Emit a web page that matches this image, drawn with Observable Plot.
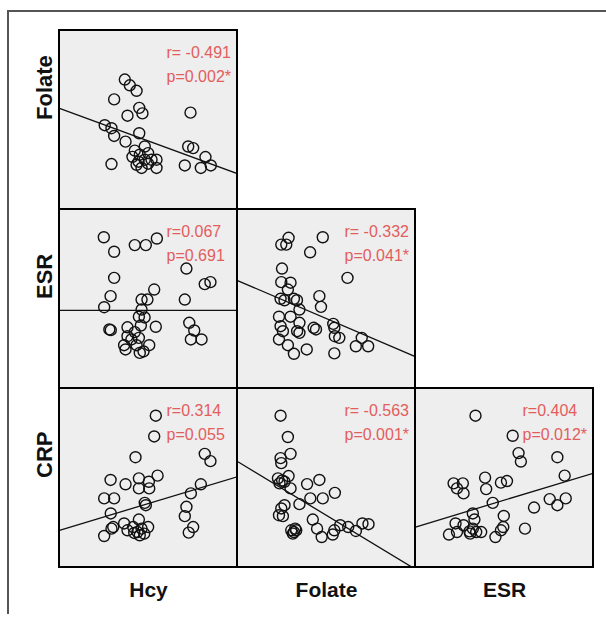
<!DOCTYPE html>
<html><head><meta charset="utf-8">
<script src="https://cdn.jsdelivr.net/npm/d3@7"></script>
<script src="https://cdn.jsdelivr.net/npm/@observablehq/plot@0.6"></script>
<style>
html,body{margin:0;padding:0;background:#fff;}
#wrap{position:relative;width:606px;height:619px;overflow:hidden;}
#chart{position:absolute;left:0;top:0;}
#outer{position:absolute;left:7px;top:10px;width:606px;height:602px;border-top:2px solid #555;border-left:2px solid #555;pointer-events:none;}
</style></head><body>
<div id="wrap"><div id="chart"></div><div id="outer"></div></div>
<script>
// Variables of the scatterplot matrix (lower triangle)
const colVars = ["Hcy", "Folate", "ESR"];
const rowVars = ["Folate", "ESR", "CRP"];
// values are read on a relative 0–100 scale per variable (no ticks in the original)
const valueRange = [0, 100];

// Panel order: Hcy×Folate, Hcy×ESR, Folate×ESR, Hcy×CRP, Folate×CRP, ESR×CRP
const panelCols = ["Hcy", "Hcy", "Folate", "Hcy", "Folate", "ESR"];
const panelRows = ["Folate", "ESR", "ESR", "CRP", "CRP", "CRP"];
const rLabels = ["r= -0.491", "r=0.067", "r= -0.332", "r=0.314", "r= -0.563", "r=0.404"];
const pLabels = ["p=0.002*", "p=0.691", "p=0.041*", "p=0.055", "p=0.001*", "p=0.012*"];
// fitted line: y value at the low and high end of the x range
const fitStart = [56.5, 43.6, 60.3, 20.8, 59.2, 22.6];
const fitEnd = [20.0, 43.6, 17.8, 50.7, -1.0, 52.7];

const hcyFolate = [[36.7,72.6],[39.5,69.4],[43.3,66.3],[30.7,61.5],[44.8,56.8],[46.6,53.7],[38.2,52.4],[73.6,54.1],[25.4,47.1],[29.2,45.4],[30.7,41.1],[37.1,37.9],[44.8,42.6],[42.3,32.9],[47.9,35.2],[45.1,30.6],[49.8,31.5],[54.5,27.8],[47.9,27.8],[43.3,25],[46.1,23.2],[49.8,25.6],[54.5,23.2],[29.2,25.4],[70.4,24.6],[72.3,35.2],[75.1,34.3],[82,29.3],[79.4,23.2],[85,24.6],[41,29.4],[51.7,27.8],[44.4,26.7]];
const hcyEsr = [[24.9,84.5],[30.7,76.4],[42.3,80.1],[48.5,80.1],[54.7,83.8],[30.7,61.8],[71.3,67],[81.6,58.3],[84.8,59.4],[28.7,51.6],[25.1,45.4],[53.2,55.3],[46.1,49.7],[49.4,49.7],[70.4,49.7],[46.1,44.1],[44.6,40.1],[28.8,32.6],[38.2,34.2],[45.7,35.2],[54.1,34.5],[42.3,31.5],[38.2,29.2],[44.6,28.3],[36.3,24.2],[37.1,21.8],[43.3,24.2],[50.4,24.2],[45.1,19.9],[72.9,36.7],[75.7,32.4],[73.8,27.4],[79.8,27.4],[47.8,39.7],[40.4,27.4],[47.2,20.7],[28,33]];
const folateEsr = [[28.7,84.2],[24.6,80.4],[27.4,80.4],[47.9,84.5],[40.8,76.1],[25,67],[61.8,61.8],[24.6,59.4],[29.8,59.1],[28.3,55.3],[24.2,50.1],[26.4,49.3],[31.7,50.1],[33.4,49.3],[46,51.6],[46.9,45.6],[34.8,44.1],[23.3,40.1],[29.8,40.1],[34.8,36.7],[24.2,34.8],[25.5,32],[33.5,32],[34.8,31.1],[42.8,33.9],[44.1,33],[53.8,36.1],[54.4,33.9],[23.3,27.4],[28.3,24.2],[31.7,19.4],[38.9,21.8],[54.7,29.2],[57.2,28.3],[54.4,19.6],[66.5,23.6],[69.8,28.3],[73.4,23.6]];
const hcyCrp = [[54.1,84.8],[53.2,73.2],[42.7,61.6],[81.6,63.5],[84.8,59.4],[28.7,48.9],[37.1,46.5],[44.6,49.8],[50.2,47.9],[55.1,51.3],[44.6,44.2],[50.4,44.2],[25.1,38.6],[30.7,38.6],[28.8,30.2],[47.9,36.1],[48.5,34.8],[79.4,46.5],[73.8,41.4],[71.3,33.9],[70.4,28.7],[75.1,22.6],[72.6,19.5],[44.6,26.8],[30.2,22.6],[25.1,17.6],[36.3,24.6],[38.2,20.8],[41.4,22.6],[43.8,19.8],[46.1,21.7],[49.8,22.6],[45.1,18],[47.6,18.9],[42,19.3],[29.2,21.7]];
const folateCrp = [[24.2,84.8],[28.3,72.9],[29.8,63.5],[24.2,61.1],[24.6,58.3],[28.7,51.1],[22.7,49.8],[23.6,47],[26.4,47.9],[29.8,44.2],[39.1,46.6],[46,48.9],[54.7,41.7],[40.9,38.6],[47.9,38.6],[34.8,35.4],[26.4,34.8],[24.6,33],[23.3,29.2],[25.5,28.7],[42.3,26.8],[44.7,21.7],[47.3,17],[54.4,20.8],[53.5,18.4],[57.7,23.6],[62.2,22.6],[66.5,20.4],[70.2,24.6],[73.6,24.2],[30.2,20.8],[31.7,19.8],[33,20.8],[31.1,18.9],[32.4,21.7],[25.1,48.6]];
const esrCrp = [[33.7,84.8],[54.6,73.6],[57.9,63.9],[59.2,59.2],[79.7,61.6],[83.8,51.3],[21.4,47],[26.6,47],[23.3,44.2],[27,41.4],[39.1,50.2],[39.7,43.8],[48,47.4],[51.4,48.3],[43.4,36.1],[66.6,33.5],[75.4,38.2],[79.7,34.8],[84.4,38.6],[32.2,30.2],[33.1,26.8],[49.6,28.8],[49.3,22.6],[48,20.8],[61.5,21.7],[22.5,24.6],[18.8,18.4],[23.3,19.8],[27,23.6],[30.3,20.2],[32.2,21.7],[34.1,19.8],[36.9,19.8],[30.7,18.9],[44.9,17]];

const pointSets = [hcyFolate, hcyEsr, folateEsr, hcyCrp, folateCrp, esrCrp];

const panels = panelCols.map((c, i) => ({col: c, row: panelRows[i], label: rLabels[i] + "\n" + pLabels[i]}));
const points = pointSets.flatMap((s, i) => s.map(([x, y]) => ({col: panelCols[i], row: panelRows[i], x, y})));
const fits = panelCols.flatMap((c, i) => [
  {col: c, row: panelRows[i], x: valueRange[0], y: fitStart[i]},
  {col: c, row: panelRows[i], x: valueRange[1], y: fitEnd[i]}
]);

const chart = Plot.plot({
  width: 606,
  height: 619,
  marginLeft: 58,
  marginRight: 12,
  marginTop: 29,
  marginBottom: 52,
  x: {domain: valueRange, axis: null},
  y: {domain: valueRange, axis: null},
  fx: {domain: colVars, padding: 0, axis: null},
  fy: {domain: rowVars, padding: 0, axis: null},
  style: {fontFamily: "'Liberation Sans', Arial, sans-serif", background: "transparent"},
  marks: [
    Plot.rect(panels, {fx: "col", fy: "row", fill: "#eeeeee"}),
    Plot.line(fits, {fx: "col", fy: "row", x: "x", y: "y", stroke: "#111", strokeWidth: 1.3, clip: true}),
    Plot.dot(points, {fx: "col", fy: "row", x: "x", y: "y", r: 5.5, stroke: "#111", strokeWidth: 1.4, fill: "none"}),
    Plot.text(panels, {fx: "col", fy: "row", text: "label", frameAnchor: "top-left", textAnchor: "start", lineAnchor: "top", dx: 107, dy: 10, fontSize: 16, lineHeight: 1.5, fill: "#e35d5d"}),
    Plot.rect(panels, {fx: "col", fy: "row", fill: "none", stroke: "#000", strokeWidth: 2}),
    Plot.text(colVars, {fx: d => d, fy: () => rowVars[rowVars.length - 1], text: d => d, frameAnchor: "bottom", lineAnchor: "middle", dy: 23, fontSize: 21, fontWeight: "bold", fill: "#111"}),
    Plot.text(rowVars, {fy: d => d, fx: () => colVars[0], text: d => d, frameAnchor: "left", lineAnchor: "middle", dx: -15, rotate: -90, fontSize: 22, fontWeight: "bold", fill: "#111"})
  ]
});
document.getElementById("chart").appendChild(chart);
</script>
</body></html>
